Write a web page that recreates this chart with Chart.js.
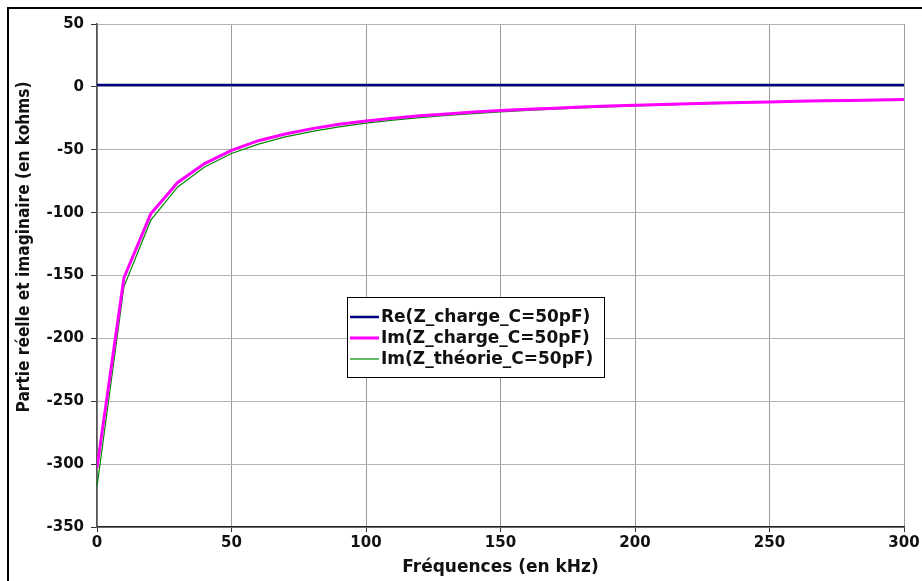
<html>
<head>
<script src="https://cdn.jsdelivr.net/npm/chart.js@4.4.1/dist/chart.umd.min.js"></script>
<style>
  html, body { margin: 0; background: #fff; overflow: hidden; }
  canvas { display: block; }
</style>
</head>
<body>
<canvas id="mychart" width="922" height="581"></canvas>
<script>
// frequencies in kHz
let freq = [0, 10, 20, 30, 40, 50, 60, 70, 80, 90, 100, 110, 120, 130, 140, 150,
            160, 170, 180, 190, 200, 210, 220, 230, 240, 250, 260, 270, 280, 290, 300];
// kohms
let reCharge = [1.5, 1.5, 1.5, 1.5, 1.5, 1.5, 1.5, 1.5, 1.5, 1.5, 1.5, 1.5, 1.5, 1.5, 1.5, 1.5,
                1.5, 1.5, 1.5, 1.5, 1.5, 1.5, 1.5, 1.5, 1.5, 1.5, 1.5, 1.5, 1.5, 1.5, 1.5];
let imCharge = [-303, -152, -101, -76, -61, -50.5, -42.8, -37.5, -33.2, -29.8, -27.2, -25, -23, -21.5, -20, -18.8,
                -17.8, -16.9, -16, -15.3, -14.6, -14, -13.4, -12.9, -12.4, -12, -11.5, -11.1, -10.8, -10.4, -10.1];
let imTheorie = [-318, -159, -106, -79.6, -63.7, -53, -45.5, -39.8, -35.4, -31.8, -28.9, -26.5, -24.5, -22.7, -21.2, -19.9,
                 -18.7, -17.7, -16.8, -15.9, -15.2, -14.5, -13.8, -13.3, -12.7, -12.2, -11.8, -11.4, -11.0, -10.6, -10.3];
let labels = ['Re(Z_charge_C=50pF)', 'Im(Z_charge_C=50pF)', 'Im(Z_théorie_C=50pF)'];
let xTitle = 'Fréquences (en kHz)';
let yTitle = 'Partie réelle et imaginaire (en kohms)';

let FONT = '"DejaVu Sans", sans-serif';

function pts(ys) {
  let out = [];
  for (let i = 0; i < freq.length; i++) out.push({x: freq[i], y: ys[i]});
  return out;
}

// outer frame (only left and top edges are visible), legend box, axis titles
let decor = {
  id: 'decor',
  beforeDraw(chart) {
    let ctx = chart.ctx;
    ctx.save();
    ctx.strokeStyle = '#000';
    ctx.lineWidth = 2;
    ctx.beginPath();
    ctx.moveTo(8, chart.height + 2);
    ctx.lineTo(8, 8);
    ctx.lineTo(chart.width + 2, 8);
    ctx.stroke();
    ctx.restore();
  },
  afterDraw(chart) {
    let ctx = chart.ctx;
    let ca = chart.chartArea;
    ctx.save();
    ctx.fillStyle = '#111';
    ctx.font = 'bold 17px ' + FONT;
    ctx.textAlign = 'center';
    ctx.textBaseline = 'middle';
    ctx.fillText(xTitle, (ca.left + ca.right) / 2, 568, 201);
    ctx.translate(25, 247);
    ctx.rotate(-Math.PI / 2);
    ctx.fillText(yTitle, 0, 0, 331);
    ctx.restore();

    ctx.save();
    ctx.fillStyle = '#fff';
    ctx.fillRect(347.5, 297.5, 257, 80);
    ctx.strokeStyle = '#000';
    ctx.lineWidth = 1;
    ctx.strokeRect(347.5, 297.5, 257, 80);
    let rows = [317, 338, 359];
    ctx.font = 'bold 17px ' + FONT;
    ctx.textAlign = 'left';
    ctx.textBaseline = 'middle';
    chart.data.datasets.forEach(function(ds, i) {
      ctx.strokeStyle = ds.borderColor;
      ctx.lineWidth = ds.borderWidth;
      ctx.beginPath();
      ctx.moveTo(350, rows[i]);
      ctx.lineTo(379, rows[i]);
      ctx.stroke();
      ctx.fillStyle = '#111';
      ctx.fillText(ds.label, 381, rows[i] + 1, 217);
    });
    ctx.restore();
  }
};

let chart = new Chart(document.getElementById('mychart'), {
  type: 'line',
  data: {
    datasets: [
      { label: labels[0], data: pts(reCharge), borderColor: '#000080', borderWidth: 2.5 },
      { label: labels[1], data: pts(imCharge), borderColor: '#ff00ff', borderWidth: 3 },
      { label: labels[2], data: pts(imTheorie), borderColor: '#008a00', borderWidth: 1.2 }
    ]
  },
  options: {
    responsive: false,
    animation: false,
    layout: { padding: { top: 24, right: 18, left: 0, bottom: 0 } },
    elements: { point: { radius: 0 }, line: { tension: 0 } },
    plugins: { legend: { display: false }, tooltip: { enabled: false } },
    scales: {
      x: {
        type: 'linear', min: 0, max: 300,
        afterFit: function(s) { s.height = 54; },
        ticks: { stepSize: 50, padding: 2, color: '#111', font: { family: FONT, size: 15, weight: 'bold' } },
        grid: { color: '#9c9c9c', tickColor: '#333', tickLength: 5, lineWidth: 1 },
        border: { color: '#222', width: 1.5 }
      },
      y: {
        min: -350, max: 50,
        afterFit: function(s) { s.width = 97; },
        ticks: { stepSize: 50, padding: 7, color: '#111', font: { family: FONT, size: 15, weight: 'bold' } },
        grid: { color: '#b3b3b3', tickColor: '#333', tickLength: 6, lineWidth: 1 },
        border: { color: '#555', width: 1.5 }
      }
    }
  },
  plugins: [decor]
});
</script>
</body>
</html>
